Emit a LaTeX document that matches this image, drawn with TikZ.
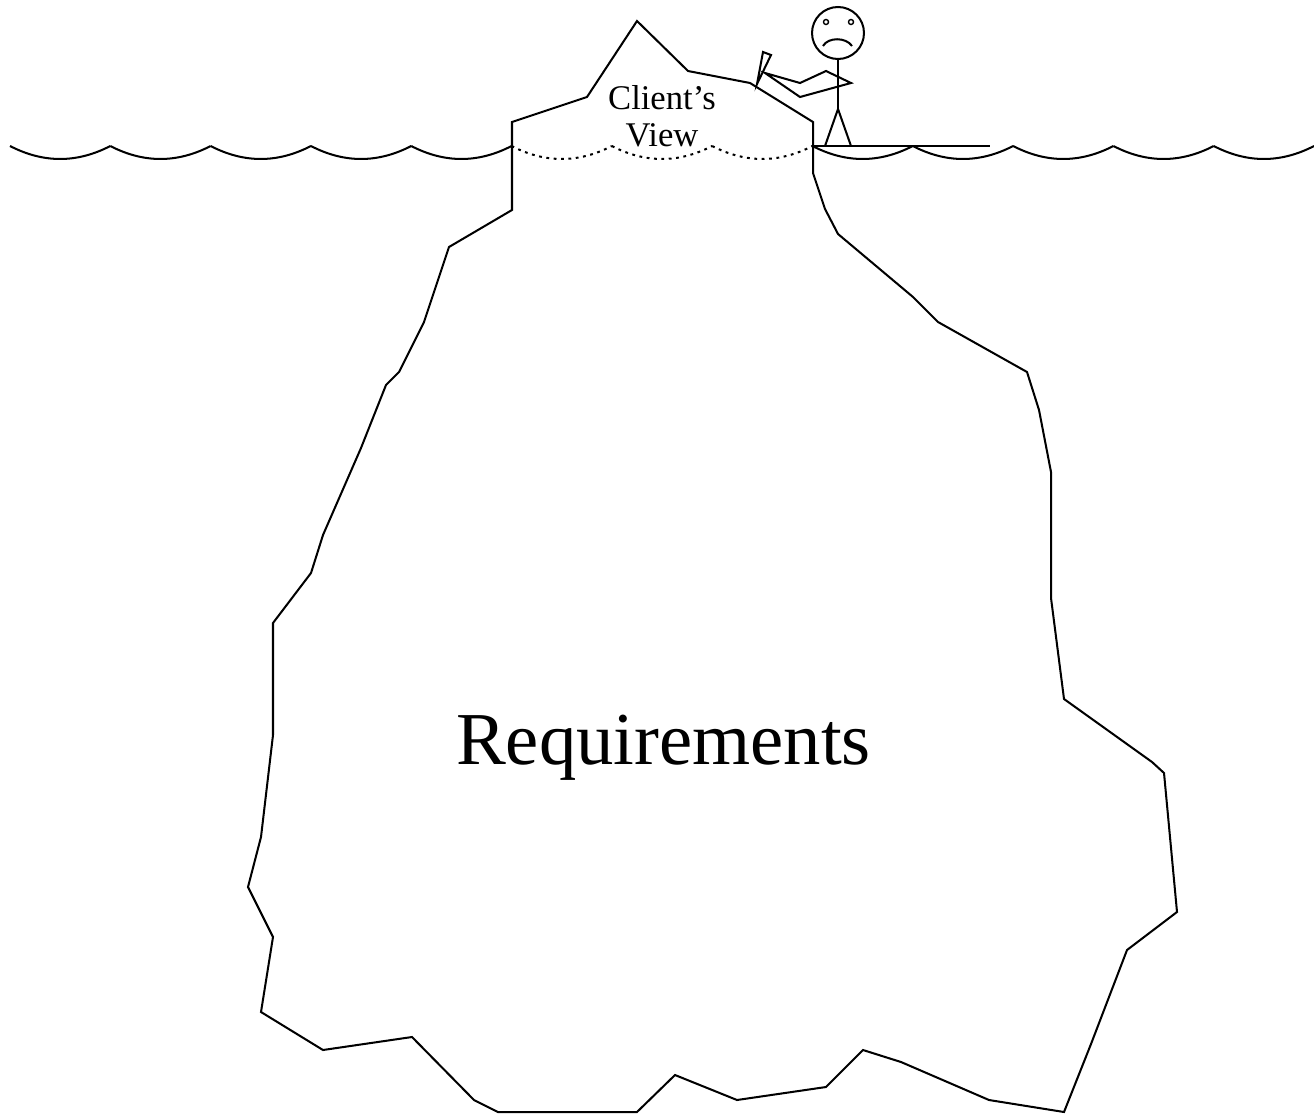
\documentclass[tikz,border=0pt]{standalone}
\usepackage{fontspec}
\setmainfont{Liberation Serif}
\tikzset{
  every picture/.style={line width=1.15pt, x=0.02cm, y=-0.02cm},
  berg/.style={draw=black, line join=miter},
  sea/.style={draw=black},
  seabelow/.style={draw=black, dash pattern=on 1.6pt off 2.6pt},
  stick/.style={draw=black, line join=miter},
  tag/.style={font=\fontsize{19.7}{21}\selectfont, align=center, inner sep=0pt},
  bigtag/.style={font=\fontsize{42.5}{50}\selectfont, inner sep=0pt},
}
% one swell of the sea, from crest to crest
\newcommand{\swell}[2]{\draw[#2] (#1,146) .. controls ({#1+33.4},163.3) and ({#1+66.9},163.3) .. ({#1+100.3},146);}

\begin{document}
\begin{tikzpicture}
  \useasboundingbox (0,0) rectangle (1314,1115);
  % sea, dotted where it runs through the ice
  \foreach \k in {0,...,12}{
    \pgfmathsetmacro{\xa}{10+100.31*\k}
    \ifnum\k<5 \swell{\xa}{sea}\else\ifnum\k>7 \swell{\xa}{sea}\else\swell{\xa}{seabelow}\fi\fi
  }
  % iceberg
  \draw[berg] (512,122) -- (587,97) -- (637,21) -- (688,71) -- (750,83) -- (813,122)
    -- (813,173) -- (825,209) -- (838,234) -- (913,297) -- (938,322) -- (1027,372)
    -- (1039,410) -- (1051,472) -- (1051,598) -- (1064,699) -- (1152,762) -- (1164,773)
    -- (1177,912) -- (1127,950) -- (1091,1044) -- (1064,1112) -- (989,1100) -- (901,1062)
    -- (863,1050) -- (826,1087) -- (737,1100) -- (675,1075) -- (637,1112) -- (498,1112)
    -- (474,1100) -- (412,1037) -- (323,1050) -- (261,1012) -- (273,937) -- (248,887)
    -- (261,837) -- (273,735) -- (273,623) -- (311,573) -- (323,535) -- (361,448)
    -- (386,385) -- (399,372) -- (424,322) -- (449,247) -- (512,210) -- cycle;
  \node[tag] (view) at (662,116) {Client's\\View};
  \node[bigtag, anchor=base] (req) at (663.5,764) {Requirements};
  % man on his board, chipping at the ice
  \draw[stick] (812,146) -- (990,146);
  \draw[stick] (838,33) circle[radius=0.52cm];
  \draw[stick, line width=0.8pt] (826,22) circle[radius=0.05cm] (851,22) circle[radius=0.05cm];
  \draw[stick] (823,46) .. controls (828,37) and (846,37) .. (852,46);
  \draw[stick] (838,59) -- (838,109);
  \draw[stick] (825,146) -- (838,109) -- (851,146);
  \draw[stick] (765,73) -- (800,83) -- (826,71) -- (851,83) -- (800,97) -- cycle;
  \draw[stick] (757,84) -- (763,52) -- (771,55) -- cycle;
\end{tikzpicture}
\end{document}
